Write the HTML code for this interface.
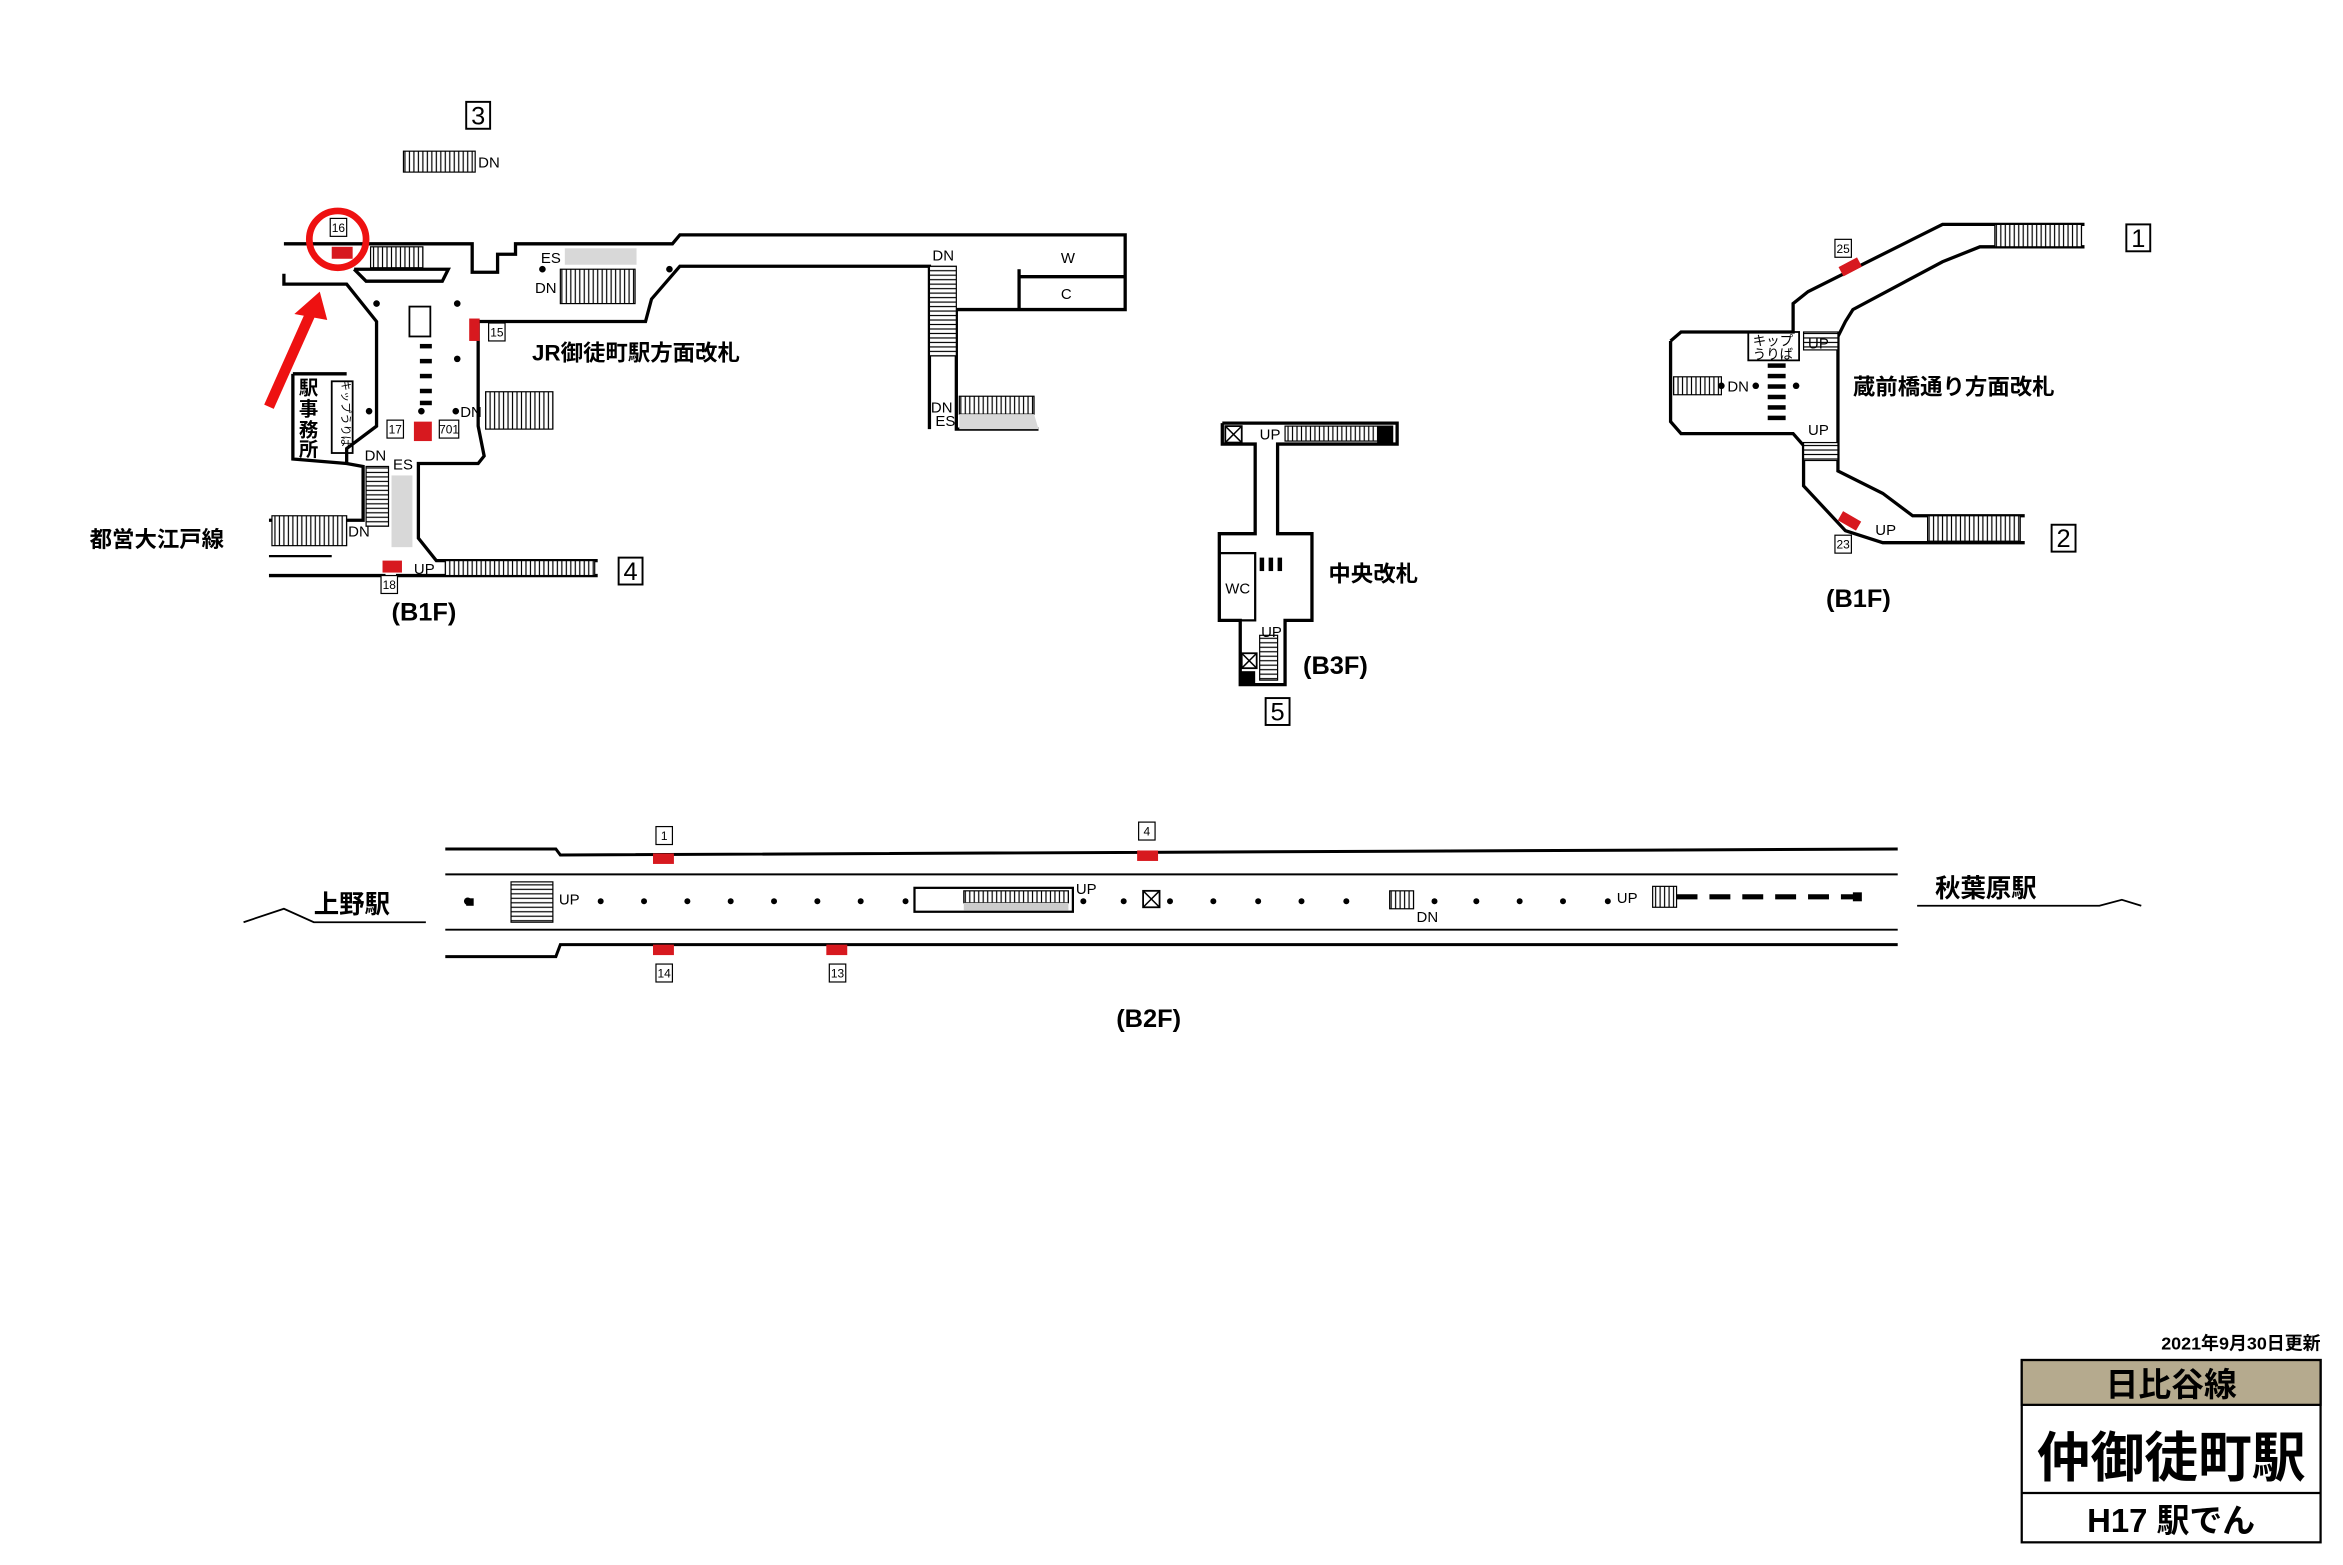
<!DOCTYPE html>
<html><head><meta charset="utf-8"><style>
html,body{margin:0;padding:0;background:#fff}
svg{display:block}
text{font-family:"Liberation Sans","Noto Sans CJK JP",sans-serif;fill:#000}
.b{font-weight:bold}
</style></head><body>
<svg width="2343" height="1565" viewBox="0 0 1568 1047" xmlns="http://www.w3.org/2000/svg">
<defs>
<pattern id="st" width="3" height="10" patternUnits="userSpaceOnUse"><rect width="3" height="10" fill="#fff"/><line x1="1" y1="0" x2="1" y2="10" stroke="#000" stroke-width="0.8"/></pattern>
<pattern id="sth" width="10" height="3" patternUnits="userSpaceOnUse"><rect width="10" height="3" fill="#fff"/><line x1="0" y1="1" x2="10" y2="1" stroke="#000" stroke-width="0.8"/></pattern>
</defs>
<g fill="none" stroke="#000" stroke-width="2.2">
<polyline points="190,163 316,163 316,182 333,182 333,170 345,170 345,163 450,163 455,157 753,157 753,207 640,207 640,287 695,287"/>
<polyline points="190,183 190,190 232,190 252,215 252,285 232,300 232,310"/>
<polyline points="237,180 300,180 296,188 245,188 237,180"/>
<polyline points="320,215 320,285 324,305 320,310 280,310 280,360 292,375 400,375"/>
<polyline points="320,215 432,215 436,200 455,178 622,178 622,287"/>
<line x1="682" y1="185" x2="753" y2="185"/>
<line x1="682" y1="207" x2="682" y2="180"/>
<polyline points="196,250 196,307 232,310 243,312 243,348 180,348"/>
<polyline points="196,250 232,250"/>
<line x1="180" y1="385" x2="258" y2="385"/>
<line x1="180" y1="372" x2="222" y2="372" stroke-width="1.5"/>
<line x1="265" y1="385" x2="400" y2="385"/>
<polyline points="818,283 935,283 935,297 855,297 855,357 878,357 878,415 860,415 860,458 830,458 830,415 816,415 816,357 840,357 840,297 818,297 818,283"/>
<polyline points="1118,228 1118,282 1125,290 1200,290 1207,298 1207,325 1235,355 1260,363 1355,363"/>
<polyline points="1118,228 1125,222 1200,222 1200,203 1210,195 1280,160 1300,150 1395,150"/>
<polyline points="1230,225 1235,215 1240,207 1300,175 1325,165 1395,165"/>
<polyline points="1230,225 1230,315 1260,330 1280,345 1355,345"/>
</g>
<g stroke="#000" stroke-width="0.8">
<rect x="270" y="101" width="48" height="14" fill="url(#st)"/>
<rect x="248" y="165" width="35" height="14" fill="url(#st)"/>
<rect x="375" y="180" width="50" height="23" fill="url(#st)"/>
<rect x="378" y="166" width="48" height="11" fill="#d8d8d8" stroke="none"/>
<rect x="325" y="262" width="45" height="25" fill="url(#st)"/>
<rect x="622" y="178" width="18" height="60" fill="url(#sth)"/>
<rect x="642" y="265" width="50" height="12" fill="url(#st)"/>
<polygon points="642,277 692,277 695,287 642,287" fill="#d8d8d8" stroke="none"/>
<rect x="245" y="312" width="15" height="40" fill="url(#sth)"/>
<rect x="262" y="318" width="14" height="48" fill="#d8d8d8" stroke="none"/>
<rect x="182" y="345" width="50" height="20" fill="url(#st)"/>
<rect x="298" y="375" width="100" height="10" fill="url(#st)"/>
<rect x="860" y="285" width="62" height="10" fill="url(#st)"/>
<rect x="922" y="285" width="10" height="11" fill="#000"/>
<rect x="1335" y="150" width="58" height="15" fill="url(#st)"/>
<rect x="1290" y="345" width="62" height="17" fill="url(#st)"/>
<rect x="1120" y="252" width="32" height="12" fill="url(#st)"/>
<rect x="1207" y="222" width="23" height="12" fill="url(#sth)"/>
<rect x="1207" y="296" width="23" height="12" fill="url(#sth)"/>
<rect x="342" y="590" width="28" height="27" fill="url(#sth)"/>
<rect x="645" y="596" width="70" height="8" fill="url(#st)"/>
<rect x="645" y="604" width="70" height="5" fill="#ccc" stroke="none"/>
<rect x="930" y="596" width="16" height="12" fill="url(#st)"/>
<rect x="1106" y="593" width="16" height="14" fill="url(#st)"/>
<rect x="843" y="425" width="12" height="30" fill="url(#sth)"/>
</g>
<g fill="#000">
<rect x="281" y="230" width="8" height="3"/><rect x="281" y="240" width="8" height="3"/><rect x="281" y="250" width="8" height="3"/><rect x="281" y="260" width="8" height="3"/><rect x="281" y="268" width="8" height="3"/>
<rect x="1183" y="243" width="12" height="3"/><rect x="1183" y="250" width="12" height="3"/><rect x="1183" y="257" width="12" height="3"/><rect x="1183" y="264" width="12" height="3"/><rect x="1183" y="271" width="12" height="3"/><rect x="1183" y="278" width="12" height="3"/>
<rect x="843" y="373" width="3" height="9"/><rect x="849" y="373" width="3" height="9"/><rect x="855" y="373" width="3" height="9"/>
<rect x="830" y="449" width="10" height="9"/>
<circle cx="252" cy="203" r="2.2"/><circle cx="306" cy="203" r="2.2"/><circle cx="306" cy="240" r="2.2"/><circle cx="247" cy="275" r="2.2"/><circle cx="282" cy="275" r="2.2"/><circle cx="305" cy="275" r="2.2"/><circle cx="363" cy="180" r="2.2"/><circle cx="448" cy="180" r="2.2"/>
<circle cx="1152" cy="258" r="2.2"/><circle cx="1175" cy="258" r="2.2"/><circle cx="1202" cy="258" r="2.2"/>
<circle cx="313" cy="603" r="2.5"/>
<circle cx="402" cy="603" r="2"/><circle cx="431" cy="603" r="2"/><circle cx="460" cy="603" r="2"/><circle cx="489" cy="603" r="2"/><circle cx="518" cy="603" r="2"/><circle cx="547" cy="603" r="2"/><circle cx="576" cy="603" r="2"/><circle cx="606" cy="603" r="2"/><circle cx="725" cy="603" r="2"/><circle cx="752" cy="603" r="2"/><circle cx="783" cy="603" r="2"/><circle cx="812" cy="603" r="2"/><circle cx="842" cy="603" r="2"/><circle cx="871" cy="603" r="2"/><circle cx="901" cy="603" r="2"/><circle cx="960" cy="603" r="2"/><circle cx="988" cy="603" r="2"/><circle cx="1017" cy="603" r="2"/><circle cx="1046" cy="603" r="2"/><circle cx="1076" cy="603" r="2"/>
</g>
<g fill="none" stroke="#000" stroke-width="2">
<polyline points="298,568 372,568 375,572 1270,568"/>
<polyline points="298,640 372,640 375,632 1270,632"/>
<line x1="298" y1="585" x2="1270" y2="585" stroke-width="1.3"/>
<line x1="298" y1="622" x2="1270" y2="622" stroke-width="1.3"/>
<rect x="612" y="594" width="106" height="16" stroke-width="1.5"/>
<line x1="1122" y1="600" x2="1245" y2="600" stroke-width="3.5" stroke-dasharray="14,8"/>
<polyline points="163,617 190,608 210,617 285,617" stroke-width="1.2"/>
<polyline points="1283,606 1405,606 1420,602 1433,606" stroke-width="1.2"/>
<rect x="765" y="596" width="11" height="11" stroke-width="1.2"/>
<line x1="765" y1="596" x2="776" y2="607" stroke-width="1"/><line x1="776" y1="596" x2="765" y2="607" stroke-width="1"/>
<rect x="820" y="285" width="11" height="11" stroke-width="1.2"/>
<line x1="820" y1="285" x2="831" y2="296" stroke-width="1"/><line x1="831" y1="285" x2="820" y2="296" stroke-width="1"/>
<rect x="831" y="437" width="10" height="10" stroke-width="1.2"/>
<line x1="831" y1="437" x2="841" y2="447" stroke-width="1"/><line x1="841" y1="437" x2="831" y2="447" stroke-width="1"/>
<rect x="274" y="205" width="14" height="20" stroke-width="1.2"/>
<rect x="222" y="255" width="14" height="48" stroke-width="1.2"/>
<rect x="1170" y="222" width="34" height="19" stroke-width="1.2"/>
<rect x="816" y="370" width="24" height="45" stroke-width="1.5"/>
</g>
<rect x="312" y="601" width="5" height="5" fill="#000"/>
<rect x="1240" y="597" width="6" height="6" fill="#000"/>
<g fill="#d7191f">
<rect x="222" y="165" width="14" height="8"/>
<rect x="314" y="213" width="7" height="15"/>
<rect x="277" y="282" width="12" height="13"/>
<rect x="256" y="375" width="13" height="8"/>
<rect x="437" y="571" width="14" height="7"/><rect x="761" y="569" width="14" height="7"/>
<rect x="437" y="632" width="14" height="7"/><rect x="553" y="632" width="14" height="7"/>
<rect x="1231" y="175" width="14" height="7" transform="rotate(-28 1238 178)"/>
<rect x="1231" y="345" width="14" height="7" transform="rotate(30 1238 348)"/>
</g>
<circle cx="226" cy="160" r="19" fill="none" stroke="#ee1111" stroke-width="4.5"/>
<line x1="180" y1="272" x2="209" y2="207" stroke="#ee1111" stroke-width="7"/>
<polygon points="214,195 197,210 219,214" fill="#ee1111"/>
<g font-size="8" text-anchor="middle">
<rect x="221" y="146" width="11" height="12" fill="#fff" stroke="#000" stroke-width="0.8"/><text x="226.5" y="155">16</text>
<rect x="327" y="216" width="11" height="12" fill="#fff" stroke="#000" stroke-width="0.8"/><text x="332.5" y="225">15</text>
<rect x="259" y="281" width="11" height="12" fill="#fff" stroke="#000" stroke-width="0.8"/><text x="264.5" y="290">17</text>
<rect x="294" y="281" width="13" height="12" fill="#fff" stroke="#000" stroke-width="0.8"/><text x="300.5" y="290">701</text>
<rect x="255" y="385" width="11" height="12" fill="#fff" stroke="#000" stroke-width="0.8"/><text x="260.5" y="394">18</text>
<rect x="1228" y="160" width="11" height="12" fill="#fff" stroke="#000" stroke-width="0.8"/><text x="1233.5" y="169">25</text>
<rect x="1228" y="358" width="11" height="12" fill="#fff" stroke="#000" stroke-width="0.8"/><text x="1233.5" y="367">23</text>
<rect x="439" y="553" width="11" height="12" fill="#fff" stroke="#000" stroke-width="0.8"/><text x="444.5" y="562">1</text>
<rect x="762" y="550" width="11" height="12" fill="#fff" stroke="#000" stroke-width="0.8"/><text x="767.5" y="559">4</text>
<rect x="439" y="645" width="11" height="12" fill="#fff" stroke="#000" stroke-width="0.8"/><text x="444.5" y="654">14</text>
<rect x="555" y="645" width="11" height="12" fill="#fff" stroke="#000" stroke-width="0.8"/><text x="560.5" y="654">13</text>
</g>
<g font-size="17" text-anchor="middle">
<rect x="312" y="68" width="16" height="18" fill="#fff" stroke="#000" stroke-width="1.3"/><text x="320" y="83">3</text>
<rect x="414" y="373" width="16" height="18" fill="#fff" stroke="#000" stroke-width="1.3"/><text x="422" y="388">4</text>
<rect x="847" y="467" width="16" height="18" fill="#fff" stroke="#000" stroke-width="1.3"/><text x="855" y="482">5</text>
<rect x="1423" y="150" width="16" height="18" fill="#fff" stroke="#000" stroke-width="1.3"/><text x="1431" y="165">1</text>
<rect x="1373" y="351" width="16" height="18" fill="#fff" stroke="#000" stroke-width="1.3"/><text x="1381" y="366">2</text>
</g>
<g font-size="10">
<text x="320" y="112">DN</text>
<text x="362" y="176">ES</text><text x="358" y="196">DN</text>
<text x="624" y="174">DN</text>
<text x="623" y="276">DN</text><text x="626" y="285">ES</text>
<text x="308" y="279">DN</text>
<text x="244" y="308">DN</text><text x="263" y="314">ES</text>
<text x="233" y="359">DN</text>
<text x="277" y="384">UP</text>
<text x="710" y="176">W</text><text x="710" y="200">C</text>
<text x="843" y="294">UP</text>
<text x="844" y="426">UP</text>
<text x="820" y="397">WC</text>
<text x="1156" y="262">DN</text>
<text x="1210" y="233">UP</text><text x="1210" y="291">UP</text>
<text x="1255" y="358">UP</text>
<text x="374" y="605">UP</text><text x="720" y="598">UP</text><text x="948" y="617">DN</text><text x="1082" y="604">UP</text>
</g>
<g font-size="7.5"><text x="226" y="257" transform="rotate(90 229 257)">キップうりば</text></g>
<g font-size="9"><text x="1173" y="231">キップ</text><text x="1173" y="240">うりば</text></g>
<g font-size="13" class="b">
<text x="200" y="264">駅</text><text x="200" y="278">事</text><text x="200" y="292">務</text><text x="200" y="305">所</text>
</g>
<text x="356" y="241" font-size="15" class="b">JR御徒町駅方面改札</text>
<text x="60" y="366" font-size="15" class="b">都営大江戸線</text>
<text x="262" y="415" font-size="17" class="b">(B1F)</text>
<text x="889" y="389" font-size="15" class="b">中央改札</text>
<text x="872" y="451" font-size="17" class="b">(B3F)</text>
<text x="1240" y="264" font-size="15" class="b">蔵前橋通り方面改札</text>
<text x="1222" y="406" font-size="17" class="b">(B1F)</text>
<text x="210" y="611" font-size="17" class="b">上野駅</text>
<text x="1295" y="600" font-size="17" class="b">秋葉原駅</text>
<text x="747" y="687" font-size="17" class="b">(B2F)</text>
<text x="1553" y="903" font-size="12" text-anchor="end" class="b">2021年9月30日更新</text>
<rect x="1353" y="910" width="200" height="122" fill="#fff" stroke="#000" stroke-width="1.5"/>
<rect x="1353" y="910" width="200" height="30" fill="#b5aa8e" stroke="#000" stroke-width="1.5"/>
<line x1="1353" y1="999" x2="1553" y2="999" stroke="#000" stroke-width="1.5"/>
<text x="1453" y="934" font-size="22" text-anchor="middle" class="b">日比谷線</text>
<text x="1453" y="988" font-size="36" font-weight="bold" text-anchor="middle">仲御徒町駅</text>
<text x="1453" y="1025" font-size="22" text-anchor="middle" class="b">H17 駅でん</text>
</svg>
</body></html>
